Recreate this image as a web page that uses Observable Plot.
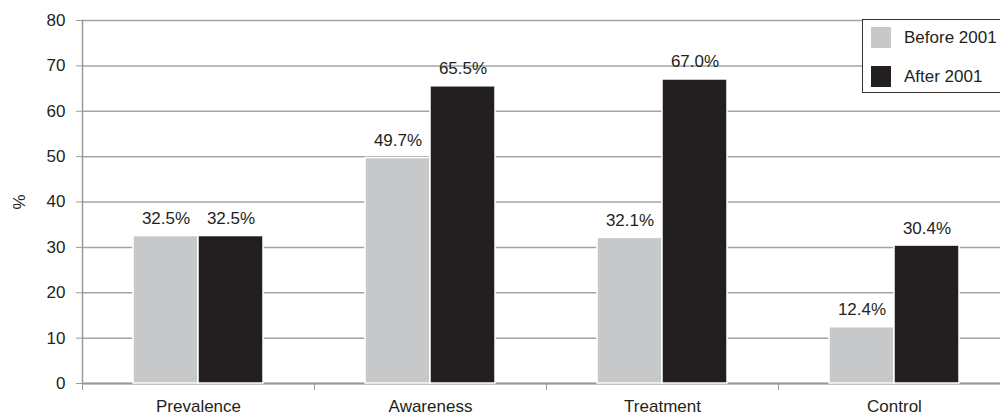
<!DOCTYPE html>
<html>
<head>
<meta charset="utf-8">
<script src="https://cdn.jsdelivr.net/npm/d3@7"></script>
<script src="https://cdn.jsdelivr.net/npm/@observablehq/plot@0.6"></script>
<style>
  html, body { margin: 0; padding: 0; background: #fff; overflow: hidden; }
  #wrap { position: relative; width: 1000px; height: 418px; font-family: "Liberation Sans", Arial, sans-serif; color: #231f20; }
  #legend { position: absolute; left: 862px; top: 19px; width: 160px; height: 74px; border: 1px solid #333; background: #fff; box-sizing: border-box; }
  .item { position: absolute; left: 8px; height: 21px; display: flex; align-items: center; font-size: 17px; }
  .sw { width: 20px; height: 21px; margin-right: 13px; }
</style>
</head>
<body>
<div id="wrap"></div>
<script>
const categories = ["Prevalence", "Awareness", "Treatment", "Control"];
const periods = ["Before 2001", "After 2001"];
const before2001 = [32.5, 49.7, 32.1, 12.4];
const after2001 = [32.5, 65.5, 67.0, 30.4];
const yTicks = [0, 10, 20, 30, 40, 50, 60, 70, 80];
const colors = ["#c7c8ca", "#231f20"];

const data = categories.flatMap((c, i) => [
  {category: c, period: periods[0], value: before2001[i]},
  {category: c, period: periods[1], value: after2001[i]}
]);

const chart = Plot.plot({
  width: 1000,
  height: 418,
  marginTop: 20,
  marginBottom: 35,
  marginLeft: 81,
  marginRight: 0,
  style: {fontFamily: "'Liberation Sans', Arial, sans-serif", fontSize: "17px", color: "#231f20", background: "white"},
  fx: {domain: categories, range: [81, 1010], padding: 0, label: null, axis: null},
  x: {domain: periods, paddingInner: 0, paddingOuter: 0.758, axis: null},
  y: {domain: [0, 80], axis: null},
  color: {domain: periods, range: colors},
  marks: [
    Plot.gridY(yTicks, {stroke: "#a3a3a3", strokeOpacity: 1, strokeWidth: 1.5}),
    Plot.ruleY([0], {stroke: "#9a9a9a", strokeWidth: 2}),
    Plot.barY(data, {fx: "category", x: "period", y: "value", fill: "period", stroke: "white", strokeWidth: 1.5}),
    Plot.text(data, {fx: "category", x: "period", y: "value", text: d => d.value.toFixed(1) + "%", lineAnchor: "bottom", dy: -12, fontSize: 17, fill: "#231f20"}),
    Plot.frame({anchor: "left", facetAnchor: "left", stroke: "#9a9a9a", strokeWidth: 1.5}),
    Plot.axisY({ticks: yTicks, tickSize: 6, tickPadding: 11, stroke: "#9a9a9a", fill: "#231f20", fontSize: 17, label: "%", labelAnchor: "center", labelOffset: 70, labelArrow: "none"}),
    Plot.axisFx({anchor: "bottom", tickSize: 0, tickPadding: 16, label: null, fontSize: 17, fill: "#231f20"}),
    Plot.axisFx({anchor: "bottom", tickSize: 7, tickFormat: () => "", dx: -116, label: null, stroke: "#9a9a9a"})
  ]
});

const wrap = document.getElementById("wrap");
wrap.appendChild(chart);

const legend = document.createElement("div");
legend.id = "legend";
periods.forEach((p, i) => {
  const item = document.createElement("div");
  item.className = "item";
  item.style.top = (i === 0 ? 7 : 46) + "px";
  const sw = document.createElement("div");
  sw.className = "sw";
  sw.style.background = colors[i];
  item.appendChild(sw);
  item.appendChild(document.createTextNode(p));
  legend.appendChild(item);
});
wrap.appendChild(legend);
</script>
</body>
</html>
